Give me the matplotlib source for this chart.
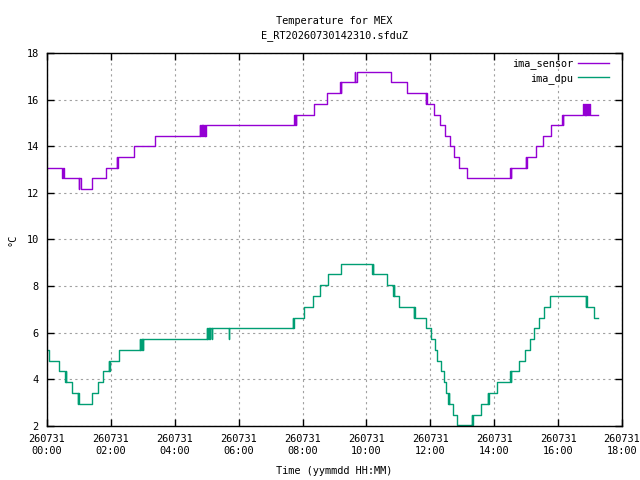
import matplotlib
matplotlib.use('Agg')
import matplotlib.pyplot as plt
import matplotlib.dates as mdates
import numpy as np
import pandas as pd

title = "Temperature for MEX\nE_RT20260730142310.sfduZ"
day = "2026-07-31"

# change points of the step traces: hours since 00:00, temperature in degC
sensor_hours = [0.00, 0.46, 0.47, 0.48, 0.49, 0.50, 0.51, 0.52, 0.99, 1.01, 1.05, 1.41, 1.84,
                2.18, 2.20, 2.22, 2.72, 3.39,
                4.78, 4.80, 4.82, 4.84, 4.86, 4.88, 4.90, 4.92, 4.94, 4.96, 4.98,
                7.73, 7.75, 7.77, 7.79, 7.81, 8.37, 8.77, 9.17, 9.19, 9.21,
                9.63, 9.65, 9.69, 10.77, 11.26, 11.85, 11.87, 11.89,
                12.11, 12.30, 12.45, 12.62, 12.73, 12.89, 13.14, 14.50, 14.52, 14.54,
                14.99, 15.01, 15.02, 15.30, 15.52, 15.78, 16.12, 16.14, 16.15,
                16.78, 16.80, 16.84, 16.85, 16.86, 16.87, 16.88, 16.89, 16.90, 16.91,
                16.92, 16.93, 16.94, 16.95, 16.96, 16.97, 16.98, 16.99, 17.24]
sensor_temp = [13.08, 12.62, 13.08, 12.62, 13.08, 12.62, 13.08, 12.62, 12.16, 12.62, 12.16, 12.62, 13.08,
               13.53, 13.08, 13.53, 13.99, 14.45,
               14.91, 14.45, 14.91, 14.45, 14.91, 14.45, 14.91, 14.45, 14.91, 14.45, 14.91,
               15.36, 14.91, 15.36, 14.91, 15.36, 15.82, 16.28, 16.74, 16.28, 16.74,
               17.20, 16.74, 17.20, 16.74, 16.28, 15.82, 16.28, 15.82,
               15.36, 14.91, 14.45, 13.99, 13.53, 13.08, 12.62, 13.08, 12.62, 13.08,
               13.53, 13.08, 13.53, 13.99, 14.45, 14.91, 15.36, 14.91, 15.36,
               15.82, 15.36, 15.82, 15.36, 15.82, 15.36, 15.82, 15.36, 15.82, 15.36,
               15.82, 15.36, 15.82, 15.36, 15.82, 15.36, 15.82, 15.36, 15.36]

dpu_hours = [0.00, 0.07, 0.39, 0.56, 0.58, 0.60, 0.77, 0.96, 0.98, 1.00, 1.40, 1.59, 1.75,
             1.93, 1.95, 1.97, 2.24, 2.90, 2.92, 2.94, 2.96, 2.98, 3.01, 3.02,
             5.00, 5.02, 5.04, 5.06, 5.08, 5.10, 5.11, 5.16, 5.17, 5.69, 5.70,
             7.69, 7.70, 7.72, 8.06, 8.33, 8.54, 8.80, 9.20, 10.19, 10.21, 10.22,
             10.63, 10.83, 10.85, 10.86, 11.03, 11.48, 11.50, 11.51, 11.87, 12.02,
             12.14, 12.21, 12.34, 12.42, 12.50, 12.56, 12.58, 12.60, 12.70, 12.83,
             13.30, 13.32, 13.34, 13.58, 13.80, 13.82, 13.84, 14.10, 14.50, 14.52, 14.53,
             14.77, 14.95, 15.11, 15.26, 15.40, 15.55, 15.76, 16.87, 16.89, 16.90,
             17.11, 17.13, 17.14, 17.24]
dpu_temp = [5.26, 4.80, 4.34, 3.88, 4.34, 3.88, 3.42, 2.95, 3.42, 2.95, 3.42, 3.88, 4.34,
            4.80, 4.34, 4.80, 5.26, 5.73, 5.26, 5.73, 5.26, 5.73, 5.26, 5.73,
            6.19, 5.73, 6.19, 5.73, 6.19, 5.73, 6.19, 5.73, 6.19, 5.73, 6.19,
            6.65, 6.19, 6.65, 7.11, 7.57, 8.04, 8.50, 8.96, 8.50, 8.96, 8.50,
            8.04, 7.57, 8.04, 7.57, 7.11, 6.65, 7.11, 6.65, 6.19, 5.73,
            5.26, 4.80, 4.34, 3.88, 3.42, 2.95, 3.42, 2.95, 2.49, 2.03,
            2.49, 2.03, 2.49, 2.95, 3.42, 2.95, 3.42, 3.88, 4.34, 3.88, 4.34,
            4.80, 5.26, 5.73, 6.19, 6.65, 7.11, 7.57, 7.11, 7.57, 7.11,
            6.65, 7.11, 6.65, 6.65]

base = pd.Timestamp(day)
def to_time(h):
    return base + pd.to_timedelta(np.array(h), unit='h')

plt.rcParams['font.family'] = ['DejaVu Sans Mono']
plt.rcParams['font.size'] = 7.4

fig = plt.figure(figsize=(6.4, 4.8), dpi=100)
ax = fig.add_axes([0.0734, 0.1125, 0.8984, 0.7771])

ax.step(to_time(sensor_hours), sensor_temp, where='post', color='#9400D3', lw=1.0, label='ima_sensor')
ax.step(to_time(dpu_hours), dpu_temp, where='post', color='#009E73', lw=1.0, label='ima_dpu')

ax.set_xlim(base, base + pd.Timedelta(hours=18))
ax.set_ylim(2, 18)
ax.set_yticks(np.arange(2, 19, 2))
ax.xaxis.set_major_locator(mdates.HourLocator(byhour=range(0, 24, 2)))
ax.xaxis.set_major_formatter(mdates.DateFormatter('%y%m%d\n%H:%M'))

ax.grid(True, color='#a0a0a0', linestyle=(0, (2, 3)), linewidth=0.8)
ax.tick_params(direction='in', top=True, right=True, length=5, width=1, pad=6)
ax.tick_params(axis='x', pad=6)
for s in ax.spines.values():
    s.set_linewidth(1)

ax.set_title(title, fontsize=7.4, pad=11, linespacing=1.5)
ax.set_xlabel('Time (yymmdd HH:MM)', labelpad=7)
ax.set_ylabel('°C')
ax.yaxis.set_label_coords(-0.052, 0.5)

ax.legend(loc='upper right', frameon=False, markerfirst=False, handlelength=3.0,
          handletextpad=0.5, labelspacing=0.35, borderaxespad=0.55,
          bbox_to_anchor=(0.995, 1.012))

fig.savefig('out.png', dpi=100)
